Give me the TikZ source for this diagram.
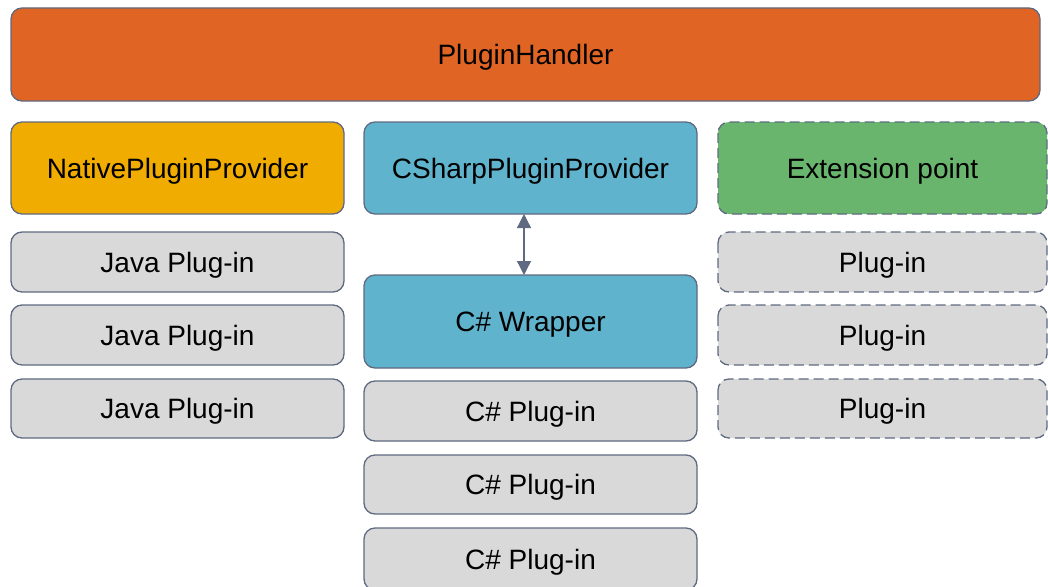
\documentclass[tikz,border=0pt]{standalone}
\usepackage{fontspec}
\setmainfont{Liberation Sans}
\usetikzlibrary{arrows.meta}
\definecolor{edge}{HTML}{5F6A80}
\definecolor{handler}{HTML}{E06424}
\definecolor{native}{HTML}{F0AC00}
\definecolor{csharp}{HTML}{60B3CC}
\definecolor{ext}{HTML}{6AB56E}
\definecolor{plug}{HTML}{D9D9D9}
\tikzset{
  box/.style={draw=edge, line width=1.3pt, rounded corners=11pt},
  dashedbox/.style={box, dash pattern=on 10pt off 5pt},
  label/.style={font=\fontsize{28}{32}\selectfont, inner sep=0pt, yshift=-3pt},
}
\begin{document}
\begin{tikzpicture}[x=1pt,y=-1pt]
\useasboundingbox (0,0) rectangle (1048,586);
% top-level handler
\draw[box, fill=handler] (11,8) rectangle (1040,101);
\node[label] (handler) at (525.5,54.5) {PluginHandler};
% providers
\draw[box, fill=native] (11,122) rectangle (344,214);
\node[label] (native) at (177.5,168) {NativePluginProvider};
\draw[box, fill=csharp] (364,122) rectangle (697,214);
\node[label] (csprov) at (530.5,168) {CSharpPluginProvider};
\draw[dashedbox, fill=ext] (718,122) rectangle (1047,214);
\node[label] (ext) at (882.5,168) {Extension point};
% java plug-ins
\foreach \i/\ya/\yb in {1/232/292, 2/305/365, 3/379/438}{
  \draw[box, fill=plug] (11,\ya) rectangle (344,\yb);
  \node[label] (java\i) at (177.5,{(\ya+\yb)/2}) {Java Plug-in};
}
% C# wrapper
\draw[box, fill=csharp] (364,275) rectangle (697,368);
\node[label] (wrap) at (530.5,321.5) {C\# Wrapper};
\coordinate (provbot) at (524,214);
\coordinate (wraptop) at (524,275);
\draw[edge, line width=1.3pt, {Triangle[length=14pt,width=14pt]}-{Triangle[length=14pt,width=14pt]}] (provbot) -- (wraptop);
% C# plug-ins
\foreach \i/\ya/\yb in {1/381/441, 2/455/514, 3/528/590}{
  \draw[box, fill=plug] (364,\ya) rectangle (697,\yb);
  \node[label] (cs\i) at (530.5,{(\ya+\yb)/2}) {C\# Plug-in};
}
% generic plug-ins at the extension point
\foreach \i/\ya/\yb in {1/232/292, 2/305/365, 3/379/438}{
  \draw[dashedbox, fill=plug] (718,\ya) rectangle (1047,\yb);
  \node[label] (pl\i) at (882.5,{(\ya+\yb)/2}) {Plug-in};
}
\end{tikzpicture}
\end{document}
